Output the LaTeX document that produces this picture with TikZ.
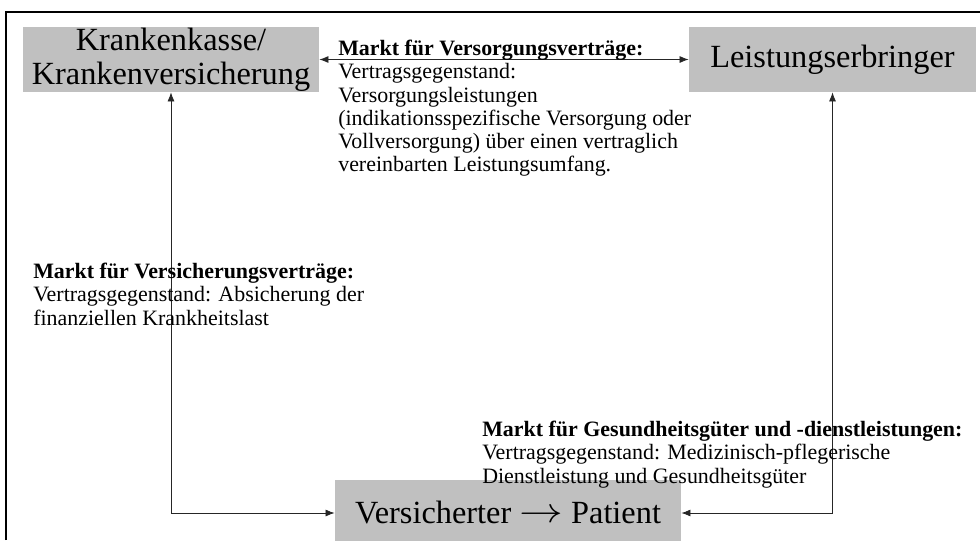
\documentclass[tikz,border=0pt]{standalone}
\usepackage{fontspec}
\setmainfont{Liberation Serif}
\usetikzlibrary{arrows.meta}
\definecolor{boxgray}{RGB}{192,192,192}

\begin{document}
\begin{tikzpicture}[x=0.025cm, y=-0.025cm,
    box/.style={fill=boxgray, inner sep=0pt, align=center, font=\fontsize{23}{24.5}\selectfont},
    info/.style={anchor=north west, inner sep=0pt, align=left, font=\fontsize{15.6}{16.5}\selectfont},
    conn/.style={draw=black!85, line width=0.6pt, {Latex[length=6.5pt,width=5pt]}-{Latex[length=6.5pt,width=5pt]}}]
    \useasboundingbox (0,0) rectangle (980,540);
    \draw[line width=1.4pt] (6,540) -- (6,12) -- (980,12);

    \node[box, minimum width=7.4cm, minimum height=1.625cm] (kasse) at (171,59.5) {Krankenkasse/\\Krankenversicherung};
    \node[box, minimum width=7.175cm, minimum height=1.625cm] (erbringer) at (832.5,59.5) {Leistungserbringer};
    \node[box, minimum width=8.65cm, minimum height=1.65cm] (patient) at (508,513) {Versicherter \raisebox{0.1ex}{\scalebox{1.25}[1]{$\rightarrow$}} Patient};

    \draw[conn] (kasse.east) -- (erbringer.west);
    \draw[conn] (kasse.south) |- (patient.west);
    \draw[conn] (erbringer.south) |- (patient.east);

    \node[info] (versorgung) at (338,40) {\textbf{Markt für Versorgungsverträge:}\\Vertragsgegenstand:\\Versorgungsleistungen\\(indikationsspezifische Versorgung oder\\Vollversorgung) über einen vertraglich\\vereinbarten Leistungsumfang.};
    \node[info] (versicherung) at (33,263) {\textbf{Markt für Versicherungsverträge:}\\Vertragsgegenstand: Absicherung der\\finanziellen Krankheitslast};
    \node[info] (gesundheit) at (482,421) {\textbf{Markt für Gesundheitsgüter und -dienstleistungen:}\\Vertragsgegenstand: Medizinisch-pflegerische\\Dienstleistung und Gesundheitsgüter};
\end{tikzpicture}
\end{document}
